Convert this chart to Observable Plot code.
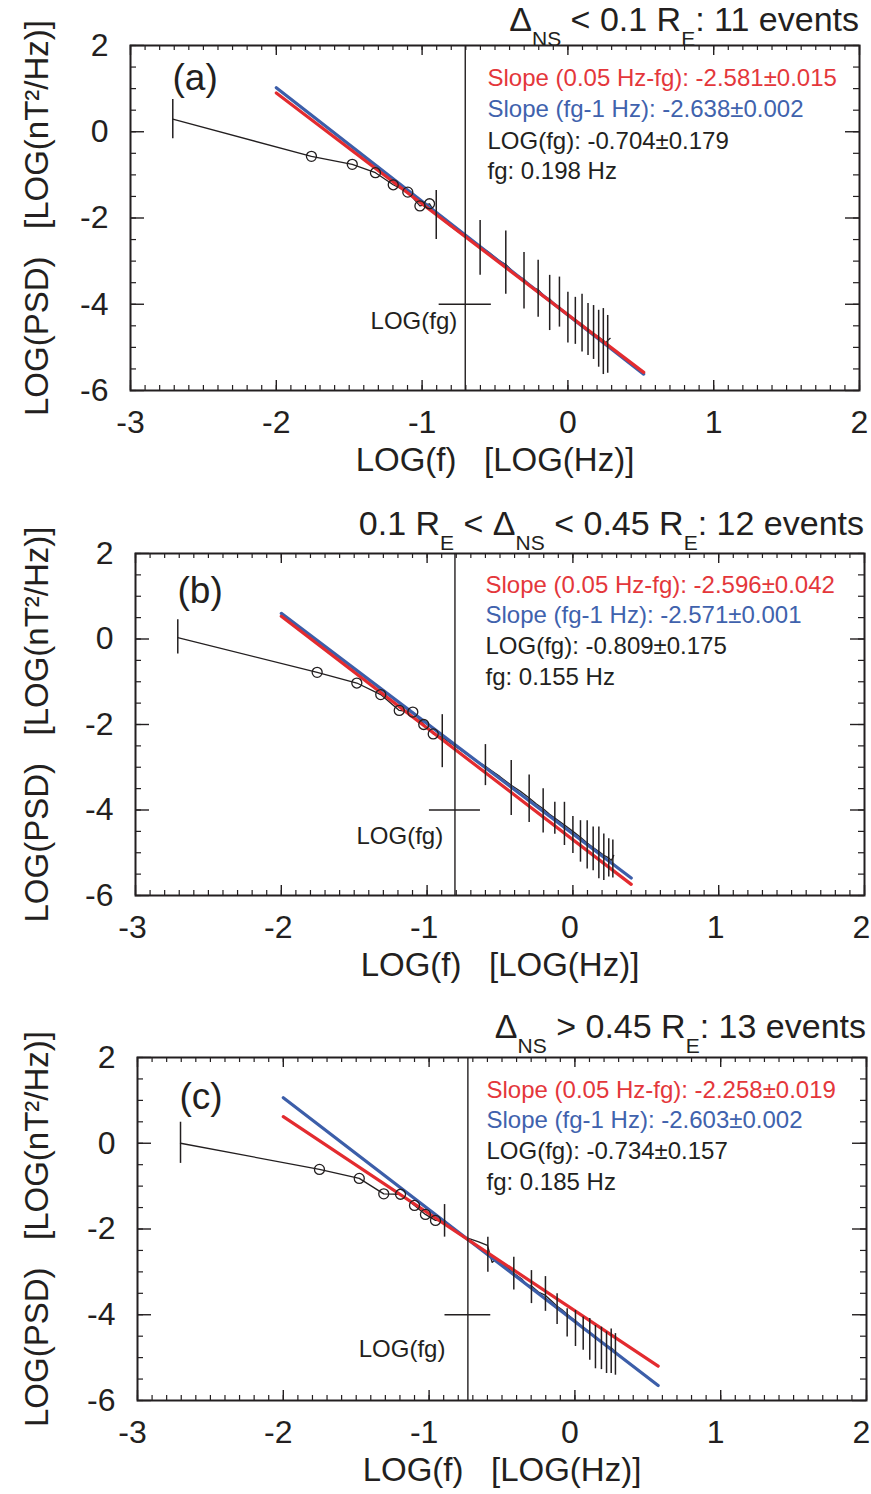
<!DOCTYPE html>
<html>
<head>
<meta charset="utf-8">
<script src="https://cdn.jsdelivr.net/npm/d3@7"></script>
<script src="https://cdn.jsdelivr.net/npm/@observablehq/plot@0.6"></script>
<style>
  body { margin: 0; background: #fff; }
  #root { position: relative; width: 871px; height: 1494px; font-family: "Liberation Sans", Arial, sans-serif; color: #231f20; overflow: hidden; }
  .panel { position: absolute; left: 0; }
  .title { position: absolute; font-size: 34px; line-height: 34px; white-space: nowrap; }
  .title sub { font-size: 21px; vertical-align: -15px; line-height: 0; }
</style>
</head>
<body>
<div id="root"></div>
<script>
// ---------------- DATA ----------------
const xTickLabels = [-3, -2, -1, 0, 1, 2];
const yTickLabels = [-6, -4, -2, 0, 2];
const xMinorStep = 0.1;
const yMinorStep = 0.5;

const panelLabels = ["(a)", "(b)", "(c)"];
const titleParts = [
  [["Δ", 0], ["NS", 1], [" < 0.1 R", 0], ["E", 1], [": 11 events", 0]],
  [["0.1 R", 0], ["E", 1], [" < Δ", 0], ["NS", 1], [" < 0.45 R", 0], ["E", 1], [": 12 events", 0]],
  [["Δ", 0], ["NS", 1], [" > 0.45 R", 0], ["E", 1], [": 13 events", 0]]
];
const slopeLowText = ["Slope (0.05 Hz-fg): -2.581±0.015", "Slope (0.05 Hz-fg): -2.596±0.042", "Slope (0.05 Hz-fg): -2.258±0.019"];
const slopeHighText = ["Slope (fg-1 Hz): -2.638±0.002", "Slope (fg-1 Hz): -2.571±0.001", "Slope (fg-1 Hz): -2.603±0.002"];
const logFgText = ["LOG(fg): -0.704±0.179", "LOG(fg): -0.809±0.175", "LOG(fg): -0.734±0.157"];
const fgText = ["fg: 0.198 Hz", "fg: 0.155 Hz", "fg: 0.185 Hz"];
const fgLabelText = "LOG(fg)";
const xTitle = "LOG(f)\u00a0\u00a0\u00a0[LOG(Hz)]";
const yTitle = "LOG(PSD)\u00a0\u00a0\u00a0[LOG(nT²/Hz)]";

const logFg = [-0.704, -0.809, -0.734];
const logFgErr = [0.179, 0.175, 0.157];
const fgBarLevel = [-4, -4, -4];

// mean spectra (log f, log PSD)
const psdA = [[-2.71,0.29],[-1.759,-0.57],[-1.479,-0.756],[-1.32,-0.95],[-1.198,-1.23],[-1.098,-1.40],[-1.015,-1.72],[-0.949,-1.67],[-0.903,-1.92],[-0.80,-2.20],[-0.72,-2.40],[-0.66,-2.52],[-0.602,-2.66],[-0.54,-2.80],[-0.48,-2.97],[-0.426,-3.08],[-0.36,-3.30],[-0.301,-3.42],[-0.25,-3.60],[-0.204,-3.66],[-0.16,-3.82],[-0.125,-3.88],[-0.09,-4.00],[-0.058,-4.06],[-0.03,-4.18],[0.0,-4.25],[0.051,-4.38],[0.097,-4.47],[0.138,-4.60],[0.176,-4.68],[0.211,-4.76],[0.243,-4.84],[0.26,-4.90],[0.273,-4.84],[0.29,-4.79]];
const circlesA = [[-1.759,-0.57],[-1.479,-0.756],[-1.32,-0.95],[-1.198,-1.23],[-1.098,-1.40],[-1.015,-1.72],[-0.949,-1.67]];
const barsA = [[-2.71,-0.16,0.745],[-0.903,-2.50,-1.36],[-0.602,-3.33,-2.06],[-0.426,-3.77,-2.30],[-0.301,-4.11,-2.80],[-0.204,-4.30,-2.98],[-0.125,-4.61,-3.33],[-0.058,-4.53,-3.37],[0.0,-4.90,-3.72],[0.051,-4.93,-3.84],[0.097,-5.11,-3.77],[0.138,-5.19,-3.98],[0.176,-5.28,-4.03],[0.211,-5.46,-4.14],[0.243,-5.63,-4.10],[0.273,-5.60,-4.26]];
const redFitA = [[-2, 0.90], [0.52, -5.58]];
const blueFitA = [[-2, 1.02], [0.52, -5.62]];

const psdB = [[-2.71,0.03],[-1.754,-0.78],[-1.482,-1.03],[-1.318,-1.30],[-1.191,-1.67],[-1.098,-1.71],[-1.023,-2.0],[-0.958,-2.22],[-0.896,-2.30],[-0.81,-2.50],[-0.70,-2.76],[-0.600,-2.98],[-0.55,-3.10],[-0.50,-3.22],[-0.423,-3.42],[-0.36,-3.56],[-0.300,-3.72],[-0.25,-3.86],[-0.204,-3.97],[-0.16,-4.10],[-0.124,-4.19],[-0.058,-4.35],[0.0,-4.50],[0.052,-4.64],[0.098,-4.77],[0.139,-4.88],[0.178,-4.97],[0.212,-5.06],[0.246,-5.12],[0.262,-5.18],[0.274,-5.12],[0.28,-5.06]];
const circlesB = [[-1.754,-0.78],[-1.482,-1.03],[-1.318,-1.30],[-1.191,-1.67],[-1.098,-1.71],[-1.023,-2.0],[-0.958,-2.22]];
const barsB = [[-2.71,-0.35,0.45],[-0.896,-3.01,-1.77],[-0.600,-3.43,-2.47],[-0.423,-4.13,-2.84],[-0.300,-4.29,-3.18],[-0.204,-4.54,-3.50],[-0.124,-4.57,-3.82],[-0.058,-4.83,-3.82],[0.0,-5.02,-4.15],[0.052,-5.22,-4.25],[0.098,-5.38,-4.25],[0.139,-5.42,-4.40],[0.178,-5.61,-4.40],[0.212,-5.65,-4.56],[0.246,-5.57,-4.67],[0.274,-5.59,-4.70]];
const redFitB = [[-2, 0.53], [0.40, -5.74]];
const blueFitB = [[-2, 0.60], [0.40, -5.59]];

const psdC = [[-2.705,0.0],[-1.752,-0.61],[-1.479,-0.82],[-1.311,-1.18],[-1.196,-1.19],[-1.10,-1.45],[-1.025,-1.66],[-0.956,-1.80],[-0.894,-1.81],[-0.80,-2.08],[-0.762,-2.19],[-0.73,-2.22],[-0.66,-2.30],[-0.60,-2.38],[-0.568,-2.78],[-0.54,-2.70],[-0.50,-2.80],[-0.419,-3.03],[-0.36,-3.18],[-0.33,-3.30],[-0.298,-3.33],[-0.25,-3.47],[-0.202,-3.55],[-0.16,-3.68],[-0.122,-3.80],[-0.09,-3.88],[-0.053,-3.99],[0.004,-4.14],[0.057,-4.30],[0.102,-4.41],[0.141,-4.55],[0.182,-4.63],[0.217,-4.72],[0.249,-4.77],[0.278,-4.86]];
const circlesC = [[-1.752,-0.61],[-1.479,-0.82],[-1.311,-1.18],[-1.196,-1.19],[-1.10,-1.45],[-1.025,-1.66],[-0.956,-1.80]];
const barsC = [[-2.705,-0.47,0.49],[-0.894,-2.19,-1.43],[-0.597,-3.01,-2.19],[-0.419,-3.42,-2.66],[-0.298,-3.74,-2.97],[-0.202,-3.92,-3.11],[-0.122,-4.23,-3.51],[-0.053,-4.52,-3.86],[0.004,-4.74,-3.90],[0.057,-4.83,-4.05],[0.102,-5.06,-4.09],[0.141,-5.26,-4.25],[0.182,-5.28,-4.29],[0.217,-5.37,-4.40],[0.249,-5.37,-4.33],[0.278,-5.41,-4.44]];
const redFitC = [[-2, 0.62], [0.571, -5.20]];
const blueFitC = [[-2, 1.06], [0.571, -5.65]];

const panelData = [
  {psd: psdA, circles: circlesA, bars: barsA, red: redFitA, blue: blueFitA},
  {psd: psdB, circles: circlesB, bars: barsB, red: redFitB, blue: blueFitB},
  {psd: psdC, circles: circlesC, bars: barsC, red: redFitC, blue: blueFitC}
];

// ---------------- LAYOUT / STYLE ----------------
const INK = "#231f20";
const RED = "#e32b2f";
const BLUE = "#3c5ea9";
const RED_TEXT = "#e4373b";
const BLUE_TEXT = "#4062ad";
const layout = [
  {top: 0,    height: 500, mL: 130, mT: 45, innerH: 345, labelDy: 44, fgLabel: [-0.759, -4.57], annDx: 357, annDy: [40, 71.5, 103, 133], titleTop: 2,    titleRight: 12, xLabDx: 0},
  {top: 505,  height: 500, mL: 135, mT: 48, innerH: 342, labelDy: 49, fgLabel: [-0.89, -4.79],  annDx: 350, annDy: [39, 69, 100.5, 131], titleTop: 506,  titleRight: 7, xLabDx: -3},
  {top: 1010, height: 484, mL: 137, mT: 47, innerH: 343, labelDy: 51, fgLabel: [-0.888, -4.99], annDx: 349, annDy: [40, 70.5, 101.5, 132.5], titleTop: 1009, titleRight: 5, xLabDx: -5}
];
const INNER_W = 729;

const root = document.getElementById("root");
const xMinor = d3.range(-3, 2 + 1e-9, xMinorStep).map(v => +v.toFixed(2));
const yMinor = d3.range(-6, 2 + 1e-9, yMinorStep).map(v => +v.toFixed(2));
const xMajor = xTickLabels, yMajor = yTickLabels;

layout.forEach((L, i) => {
  const D = panelData[i];
  const innerH = L.innerH;
  const pt = ([x, y]) => ({x, y});
  const psd = D.psd.map(pt), circles = D.circles.map(pt);
  const red = D.red.map(pt), blue = D.blue.map(pt);
  const bars = D.bars.map(([x, lo, hi]) => ({x, lo, hi}));
  const fgBar = [{y: fgBarLevel[i], x1: logFg[i] - logFgErr[i], x2: logFg[i] + logFgErr[i]}];
  const ann = [
    [slopeLowText[i], RED_TEXT], [slopeHighText[i], BLUE_TEXT], [logFgText[i], INK], [fgText[i], INK]
  ];
  const xT = {minor: 5, major: 10};
  const yT = {minor: 6, major: 14};

  const chart = Plot.plot({
    width: 871,
    height: L.height,
    marginLeft: L.mL,
    marginRight: 871 - L.mL - INNER_W,
    marginTop: L.mT,
    marginBottom: L.height - L.mT - innerH,
    x: {domain: [-3, 2], label: null},
    y: {domain: [-6, 2], label: null},
    style: {fontFamily: "'Liberation Sans', Arial, sans-serif", color: INK, background: "white", overflow: "visible"},
    marks: [
      // inward ticks: bottom & top (x), left & right (y)
      Plot.tickX(xMinor, {x: d => d, insetTop: innerH - xT.minor, stroke: INK, strokeWidth: 1.2}),
      Plot.tickX(xMajor, {x: d => d, insetTop: innerH - xT.major, stroke: INK, strokeWidth: 1.4}),
      Plot.tickX(xMinor, {x: d => d, insetBottom: innerH - xT.minor, stroke: INK, strokeWidth: 1.2}),
      Plot.tickX(xMajor, {x: d => d, insetBottom: innerH - xT.major, stroke: INK, strokeWidth: 1.4}),
      Plot.tickY(yMinor, {y: d => d, insetRight: INNER_W - yT.minor, stroke: INK, strokeWidth: 1.2}),
      Plot.tickY(yMajor, {y: d => d, insetRight: INNER_W - yT.major, stroke: INK, strokeWidth: 1.4}),
      Plot.tickY(yMinor, {y: d => d, insetLeft: INNER_W - yT.minor, stroke: INK, strokeWidth: 1.2}),
      Plot.tickY(yMajor, {y: d => d, insetLeft: INNER_W - yT.major, stroke: INK, strokeWidth: 1.4}),
      Plot.axisX({ticks: xTickLabels, tickSize: 0, tickPadding: 20, fontSize: 32, dx: L.xLabDx, tickFormat: d => String(d), label: null}),
      Plot.axisY({ticks: yTickLabels, tickSize: 0, tickPadding: 22, fontSize: 32, tickFormat: d => String(d), label: null}),
      // data
      Plot.line(psd, {x: "x", y: "y", stroke: INK, strokeWidth: 1.3}),
      Plot.line(blue, {x: "x", y: "y", stroke: BLUE, strokeWidth: 3.2}),
      Plot.line(red, {x: "x", y: "y", stroke: RED, strokeWidth: 3.2}),
      Plot.ruleX(bars, {x: "x", y1: "lo", y2: "hi", stroke: INK, strokeWidth: 1.5}),
      Plot.dot(circles, {x: "x", y: "y", r: 5, stroke: INK, fill: "none", strokeWidth: 1.3}),
      Plot.ruleX([logFg[i]], {stroke: INK, strokeWidth: 1.4}),
      Plot.ruleY(fgBar, {y: "y", x1: "x1", x2: "x2", stroke: INK, strokeWidth: 1.4}),
      Plot.text([fgLabelText], {x: () => L.fgLabel[0], y: () => L.fgLabel[1], text: d => d, textAnchor: "end", lineAnchor: "bottom", fontSize: 24, fill: INK}),
      // annotations
      ...ann.map(([t, c], k) => Plot.text([t], {text: d => d, frameAnchor: "top-left", dx: L.annDx, dy: L.annDy[k], textAnchor: "start", lineAnchor: "bottom", fontSize: 24, fill: c})),
      Plot.text([panelLabels[i]], {text: d => d, frameAnchor: "top-left", dx: 42, dy: L.labelDy, textAnchor: "start", lineAnchor: "bottom", fontSize: 37, fill: INK}),
      // axis titles
      Plot.text([xTitle], {text: d => d, frameAnchor: "bottom", dy: 80, textAnchor: "middle", lineAnchor: "bottom", fontSize: 33, fill: INK}),
      Plot.text([yTitle], {text: d => d, frameAnchor: "left", dx: 47 - L.mL, rotate: -90, textAnchor: "middle", lineAnchor: "bottom", fontSize: 33, fill: INK}),
      Plot.frame({stroke: INK, strokeWidth: 2})
    ]
  });
  const wrap = document.createElement("div");
  wrap.className = "panel";
  wrap.style.top = L.top + "px";
  wrap.appendChild(chart);
  root.appendChild(wrap);

  const title = document.createElement("div");
  title.className = "title";
  title.style.top = L.titleTop + "px";
  title.style.right = L.titleRight + "px";
  titleParts[i].forEach(([t, sub]) => {
    const el = document.createElement(sub ? "sub" : "span");
    el.textContent = t;
    title.appendChild(el);
  });
  root.appendChild(title);
});
</script>
</body>
</html>
